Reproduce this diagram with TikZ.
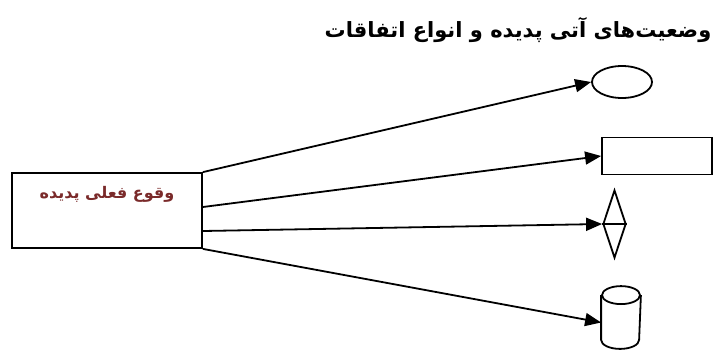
\documentclass[tikz,border=0pt]{standalone}
\usepackage{fontspec}
\usepackage{xcolor}
\usetikzlibrary{shapes.geometric, arrows.meta}
\TeXXeTstate=1
\newfontfamily\farsifont[Script=Arabic]{DejaVu Sans}
\definecolor{eventred}{HTML}{7A2A2A}

\begin{document}
\begin{tikzpicture}[
  x=1pt, y=-1pt,
  line width=1.8pt,
  outcome/.style={draw, inner sep=0pt},
  link/.style={-{Triangle[length=16pt, width=13pt]}},
]
\useasboundingbox (0,0) rectangle (717,349);

\node[font=\farsifont\bfseries\fontsize{21}{24}\selectfont] (title) at (518,30)
  {\beginR وضعیت‌های آتی پدیده و انواع اتفاقات\endR};

\node[outcome, minimum width=190pt, minimum height=75pt] (event) at (107,210.5) {};
\node[font=\farsifont\bfseries\fontsize{16}{18}\selectfont, text=eventred] (eventlabel) at (107,194)
  {\beginR وقوع فعلی پدیده\endR};

\node[outcome, ellipse, minimum width=60pt, minimum height=32pt] (oval) at (622,82) {};
\node[outcome, rectangle, minimum width=110pt, minimum height=37pt] (block) at (657,156) {};
\node[outcome, diamond, minimum width=23pt, minimum height=68pt] (rhomb) at (614.5,224) {};
\draw (rhomb.west) -- (rhomb.east);
\node[inner sep=0pt, minimum width=38pt, minimum height=61pt] (can) at (621,317.5) {};
\draw ([yshift=-9pt]can.north) ellipse [x radius=19pt, y radius=9pt];
\draw ([yshift=-9pt]can.north west) -- ([yshift=9pt]can.south west)
  arc [start angle=180, end angle=360, x radius=19pt, y radius=9pt]
  -- ([yshift=-9pt]can.north east);

\draw[link] (event.north east) -- (oval.west);
\draw[link] ([yshift=3.5pt]event.east) -- (block.west);
\draw[link] ([yshift=-20.5pt]event.east) -- (rhomb.west);
\draw[link] (event.south east) -- ([yshift=-5pt]can.west);
\end{tikzpicture}
\end{document}
